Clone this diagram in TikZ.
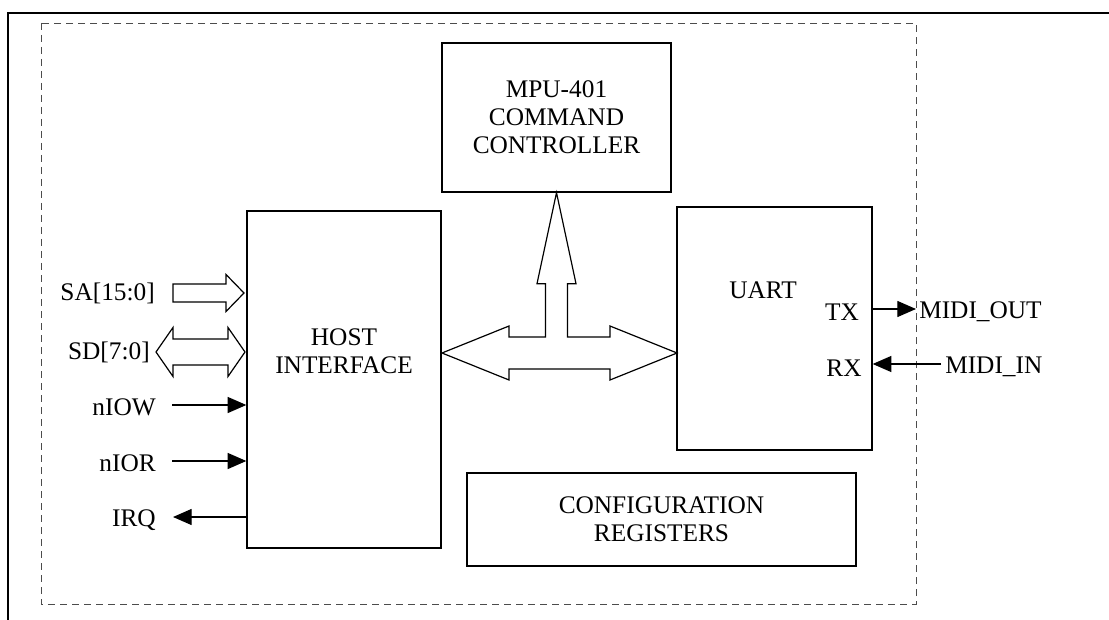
\documentclass[tikz,border=0pt]{standalone}
\usepackage{fontspec}
\setmainfont{Liberation Serif}
\usetikzlibrary{arrows.meta,calc}

\begin{document}
\begin{tikzpicture}[x=0.75pt,y=0.75pt,yscale=-1,
  font=\fontsize{19}{21}\selectfont,
  block/.style={draw,line width=1pt,inner sep=0pt,align=center},
  txt/.style={inner sep=0.75pt,align=center},
  sig/.style={line width=0.9pt,-{Triangle[length=14pt,width=12pt]}},
  fat/.style={draw,line width=0.9pt,line join=miter}]
\useasboundingbox (0,0) rectangle (1109,620);

% Frames
\draw [line width=1.7pt] (8,620) -- (8,13) -- (1109,13);
\draw [gray!60!black,line width=0.6pt,dash pattern={on 5pt off 4pt}] (41,23) rectangle (916,604);

% Blocks
\node [block,minimum width=229*0.75pt,minimum height=149*0.75pt] (mpu) at (556.5,117.5) {MPU-401\\COMMAND\\CONTROLLER};
\node [block,minimum width=194*0.75pt,minimum height=337*0.75pt] (host) at (344,379.5) {};
\node [block,minimum width=195*0.75pt,minimum height=243*0.75pt] (uart) at (774.5,328.5) {};
\node [block,minimum width=389*0.75pt,minimum height=93*0.75pt] (cfg) at (661.5,519.5) {CONFIGURATION\\REGISTERS};

% Text Node
\node [txt] (hostlbl) at (344,351) {HOST\\INTERFACE};
% Text Node
\node [txt] (uartlbl) at (763,290) {UART};
% Text Node
\node [txt] (txlbl) at (842,312) {TX};
% Text Node
\node [txt] (rxlbl) at (844,368) {RX};

% Internal bus
\coordinate (busL) at (442,353);
\coordinate (busR) at (677,353);
\draw [fat] (busL) -- ++(67,-27) -- ++(0,11) -| ($(mpu.south)+(-11,91)$) -- ++(-8.5,0) -- (mpu.south)
  -- ++(19.5,91) -- ++(-8.5,0) |- ($(busR)+(-67,-16)$) -- ++(0,-11) -- (busR) -- ++(-67,27)
  -- ++(0,-11) -- ($(busL)+(67,16)$) -- ++(0,11) -- cycle;

% SA bus
\coordinate (sa) at (173,293);
\draw [fat] (sa) ++(0,-9) -- ++(53,0) -- ++(0,-9.5) -- ++(18,18.5) -- ++(-18,18.5) -- ++(0,-9.5) -- ++(-53,0) -- cycle;
\node [txt,anchor=east] (salbl) at (156,293) {SA[15:0]};

% SD bus
\coordinate (sd) at (156,352);
\draw [fat] (sd) -- ++(17,-24.5) -- ++(0,11.5) -- ++(55,0) -- ++(0,-11.5) -- ++(17,24.5)
  -- ++(-17,24.5) -- ++(0,-11.5) -- ++(-55,0) -- ++(0,11.5) -- cycle;
\node [txt,anchor=east] (sdlbl) at (151,352) {SD[7:0]};

% Connection
\coordinate (iow) at (172,405);
\draw [sig] (iow) -- (iow -| host.west);
\node [txt,anchor=east] (iowlbl) at (157,407) {nIOW};
% Connection
\coordinate (ior) at (172,461);
\draw [sig] (ior) -- (ior -| host.west);
\node [txt,anchor=east] (iorlbl) at (157,463) {nIOR};
% Connection
\coordinate (irq) at (173,517);
\draw [sig] (irq -| host.west) -- (irq);
\node [txt,anchor=east] (irqlbl) at (157,520) {IRQ};
% Connection
\coordinate (mout) at (916,309);
\draw [sig] (mout -| uart.east) -- (mout);
\node [txt,anchor=west] (moutlbl) at (918,312) {MIDI\_OUT};
% Connection
\coordinate (min) at (941,364);
\draw [sig] (min) -- (min -| uart.east);
\node [txt,anchor=west] (minlbl) at (944,367) {MIDI\_IN};

\end{tikzpicture}
\end{document}
